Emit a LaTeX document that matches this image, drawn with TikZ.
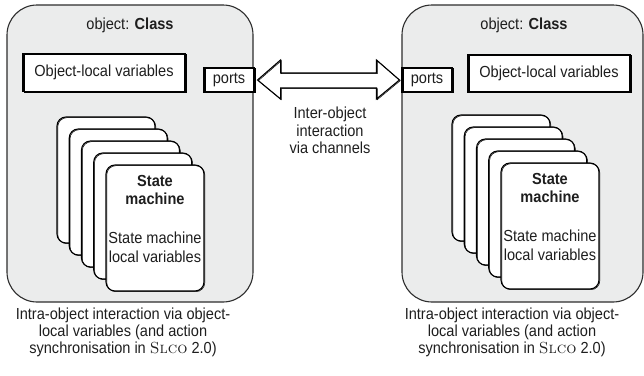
\documentclass[tikz,border=0pt]{standalone}
\usepackage{fontspec}
\newfontfamily\helv[FakeStretch=0.91]{Liberation Sans}
\usetikzlibrary{calc}
\definecolor{contfill}{RGB}{235,236,236}
\definecolor{contline}{RGB}{45,45,45}
\definecolor{ink}{RGB}{30,30,30}
\tikzset{
  txt/.style={font=\helv\fontsize{16}{17.5}\selectfont, text=ink, inner sep=0pt, align=center},
  container/.style={draw=contline, fill=contfill, line width=1.1pt, rounded corners=30pt, inner sep=0pt},
  sketchy/.style={draw=black, line width=1.1pt, fill=white,
    postaction={draw=black, line width=0.5pt, transform canvas={xshift=0.8pt, yshift=-0.7pt}}},
  plainbox/.style={sketchy, inner sep=0pt},
  card/.style={sketchy, rounded corners=9pt, minimum width=98pt, minimum height=126pt, inner sep=0pt},
}
\begin{document}
\begin{tikzpicture}[x=1pt,y=-1pt]
\useasboundingbox (0,0) rectangle (644,375);
% containers
\node[container, minimum width=246pt, minimum height=297pt] (objL) at (130,153.5) {};
\node[container, minimum width=241pt, minimum height=297pt] (objR) at (522.5,153.5) {};
\node[txt] (titL) at (130,25) {object: \textbf{Class}};
\node[txt] (titR) at (524,25) {object: \textbf{Class}};
% object-local variables
\node[plainbox, minimum width=162pt, minimum height=38pt] (olvL) at (104,72.5) {};
\node[txt] (olvLt) at (olvL) {Object-local variables};
\node[plainbox, minimum width=162pt, minimum height=37pt] (olvR) at (549,73.5) {};
\node[txt] (olvRt) at (olvR) {Object-local variables};
% ports
\node[plainbox, minimum width=50pt, minimum height=24pt] (pL) at (229,80) {};
\node[txt] (pLt) at (pL) {ports};
\node[plainbox, minimum width=50pt, minimum height=24pt] (pR) at (427,80) {};
\node[txt] (pRt) at (pR) {ports};
% state machine stacks
\foreach \i in {0,...,4}{
  \node[card] (cL\i) at ({106+12.25*\i},{180+12*\i}) {};
  \node[card] (cR\i) at ({501+12.25*\i},{178+12*\i}) {};
}
\node[txt, font=\helv\bfseries\fontsize{16}{18}\selectfont] (smtL) at ($(cL4.north)+(0,26)$) {State\\machine};
\node[txt, font=\helv\fontsize{16}{18.5}\selectfont] (smvL) at ($(cL4.north)+(0,83)$) {State machine\\local variables};
\node[txt, font=\helv\bfseries\fontsize{16}{18}\selectfont] (smtR) at ($(cR4.north)+(0,26)$) {State\\machine};
\node[txt, font=\helv\fontsize{16}{18.5}\selectfont] (smvR) at ($(cR4.north)+(0,83)$) {State machine\\local variables};
% fat double arrow between ports
\draw[sketchy, line join=miter]
  let \p1=($(pL.east)+(3,0)$), \p2=($(pR.west)+(-2,0)$) in
  (\x1,\y1) -- (\x1+23pt,\y1+20pt) -- (\x1+23pt,\y1+7pt) -- (\x2-23pt,\y1+7pt)
  -- (\x2-23pt,\y1+20pt) -- (\x2,\y1) -- (\x2-23pt,\y1-19pt) -- (\x2-23pt,\y1-8pt)
  -- (\x1+23pt,\y1-8pt) -- (\x1+23pt,\y1-19pt) -- cycle;
\node[txt] (inter) at (330,130.5) {Inter-object\\interaction\\via channels};
% captions
\node[txt, font=\helv\fontsize{16}{17}\selectfont] (capL) at (123,332.5) {Intra-object interaction via object-\\local variables (and action\\synchronisation in \textrm{\textsc{Slco}} 2.0)};
\node[txt, font=\helv\fontsize{16}{17}\selectfont] (capR) at (512,332.5) {Intra-object interaction via object-\\local variables (and action\\synchronisation in \textrm{\textsc{Slco}} 2.0)};
\end{tikzpicture}
\end{document}
